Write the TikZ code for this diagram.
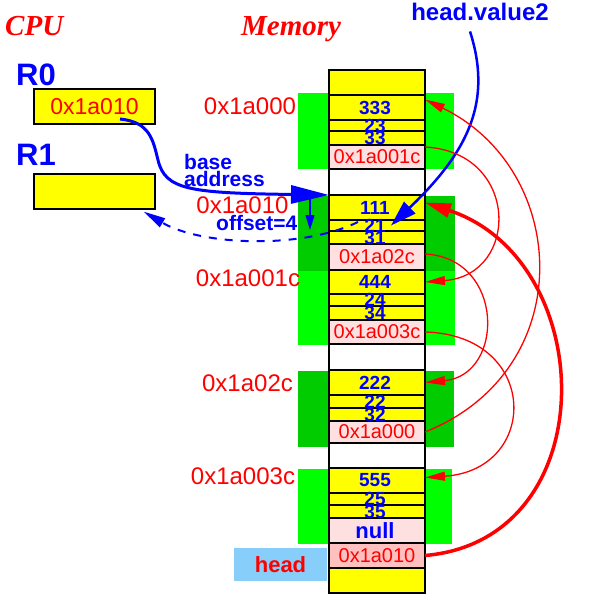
\documentclass[tikz,border=0pt]{standalone}
\usepackage{fontspec}
\setmainfont{Liberation Serif}
\setsansfont{Liberation Sans}
\usetikzlibrary{arrows.meta}

\definecolor{cellyellow}{RGB}{255,255,0}
\definecolor{ptrpink}{RGB}{255,224,224}
\definecolor{headpink}{RGB}{255,192,192}
\definecolor{litegreen}{RGB}{0,255,0}
\definecolor{darkgreen}{RGB}{0,204,0}
\definecolor{headblue}{RGB}{135,206,250}

\tikzset{
  cell/.style={draw, line width=1.2pt, minimum width=96pt, minimum height=#1, inner sep=0pt, outer sep=0pt},
  reg/.style={draw, line width=1.2pt, fill=cellyellow, minimum width=121pt, minimum height=35pt, inner sep=0pt, text=red, font=\sffamily\fontsize{23}{23}\selectfont},
  val/.style={inner sep=0pt, xshift=-2pt, text=blue, font=\sffamily\bfseries\fontsize{19}{19}\selectfont},
  ptr/.style={inner sep=0pt, text=red, font=\sffamily\fontsize{20}{20}\selectfont},
  addr/.style={inner sep=0pt, text=red, font=\sffamily\fontsize{24}{24}\selectfont},
  title/.style={inner sep=0pt, anchor=base west, text=red, font=\rmfamily\bfseries\itshape\fontsize{29}{29}\selectfont},
  note/.style={inner sep=0pt, text=blue, font=\sffamily\bfseries\fontsize{21}{17}\selectfont},
  nextptr/.style={red, line width=1.3pt, -{Triangle[length=20pt,width=9pt]}},
}

\begin{document}
\begin{tikzpicture}[x=1pt,y=-1pt]
\useasboundingbox (0,0) rectangle (592,605);

% green frames round the list nodes
\fill[litegreen] (298,93) rectangle (454,169);
\fill[darkgreen] (298,196) rectangle (455,271);
\fill[litegreen] (298,271) rectangle (455,345);
\fill[darkgreen] (298,371) rectangle (454,447);
\fill[litegreen] (298,469) rectangle (452,544);

% titles
\node[title] (cpu) at (5,35.5) {CPU};
\node[title] (mem) at (241,35.5) {Memory};

% registers
\node[inner sep=0pt, anchor=base west, text=blue, font=\sffamily\bfseries\fontsize{31}{31}\selectfont] (r0name) at (16,85) {R0};
\node[inner sep=0pt, anchor=base west, text=blue, font=\sffamily\bfseries\fontsize{31}{31}\selectfont] (r1name) at (16,165) {R1};
\node[reg] (r0) at (94.5,106.5) {0x1a010};
\node[reg] (r1) at (94.5,191.5) {};

% memory column
\node[cell=25, fill=cellyellow] (top) at (377,82.5) {};
\node[cell=25, fill=cellyellow] (v1) at (377,107.5) {};
\node[cell=11, fill=cellyellow] (a1) at (377,125.5) {};
\node[cell=14, fill=cellyellow] (b1) at (377,138) {};
\node[cell=24, fill=ptrpink] (p1) at (377,157) {};
\node[cell=26, fill=white] (g1) at (377,182) {};
\node[cell=25, fill=cellyellow] (v2) at (377,207.5) {};
\node[cell=11, fill=cellyellow] (a2) at (377,225.5) {};
\node[cell=13, fill=cellyellow] (b2) at (377,237.5) {};
\node[cell=26, fill=ptrpink] (p2) at (377,257) {};
\node[cell=24, fill=cellyellow] (v3) at (377,282) {};
\node[cell=12, fill=cellyellow] (a3) at (377,300) {};
\node[cell=14, fill=cellyellow] (b3) at (377,313) {};
\node[cell=24, fill=ptrpink] (p3) at (377,332) {};
\node[cell=26, fill=white] (g3) at (377,357) {};
\node[cell=25, fill=cellyellow] (v4) at (377,382.5) {};
\node[cell=13, fill=cellyellow] (a4) at (377,401.5) {};
\node[cell=13, fill=cellyellow] (b4) at (377,414.5) {};
\node[cell=22, fill=ptrpink] (p4) at (377,432) {};
\node[cell=25, fill=white] (g4) at (377,455.5) {};
\node[cell=25, fill=cellyellow] (v5) at (377,480.5) {};
\node[cell=12, fill=cellyellow] (a5) at (377,499) {};
\node[cell=13, fill=cellyellow] (b5) at (377,511.5) {};
\node[cell=25, fill=ptrpink] (p5) at (377,530.5) {};
\node[cell=25, fill=headpink] (hd) at (377,555.5) {};
\node[cell=25, fill=cellyellow] (bot) at (377,580.5) {};

% cell contents
\node[val] (t1) at (v1) {333};
\node[val] (t1a) at (a1) {23};
\node[val] (t1b) at (b1) {33};
\node[ptr] (t1p) at (p1) {0x1a001c};
\node[val] (t2) at (v2) {111};
\node[val] (t2a) at (a2) {21};
\node[val] (t2b) at (b2) {31};
\node[ptr] (t2p) at (p2) {0x1a02c};
\node[val] (t3) at (v3) {444};
\node[val] (t3a) at (a3) {24};
\node[val] (t3b) at (b3) {34};
\node[ptr] (t3p) at (p3) {0x1a003c};
\node[val] (t4) at (v4) {222};
\node[val] (t4a) at (a4) {22};
\node[val] (t4b) at (b4) {32};
\node[ptr] (t4p) at (p4) {0x1a000};
\node[val] (t5) at (v5) {555};
\node[val] (t5a) at (a5) {25};
\node[val] (t5b) at (b5) {35};
\node[val, font=\sffamily\bfseries\fontsize{22}{22}\selectfont] (t5p) at (p5) {null};
\node[ptr] (thd) at (hd) {0x1a010};

% addresses
\node[addr] (ad1) at (250,106.5) {0x1a000};
\node[addr] (ad2) at (242.5,205) {0x1a010};
\node[addr] (ad3) at (248,278) {0x1a001c};
\node[addr] (ad4) at (247.5,383) {0x1a02c};
\node[addr] (ad5) at (243,476.5) {0x1a003c};

% head variable
\node[fill=headblue, minimum width=93pt, minimum height=33pt, inner sep=0pt, text=red, font=\sffamily\bfseries\fontsize{22}{22}\selectfont] (head) at (280.5,564.5) {head};

% notes
\node[note, align=left, anchor=north west] (base) at (184,154) {base\\address};
\node[note, anchor=base west] (off) at (216,230) {offset=4};
\node[inner sep=0pt, anchor=base, text=blue, font=\sffamily\bfseries\fontsize{24}{24}\selectfont] (hv) at (480,20) {head.value2};

% blue arrows
\draw[blue, line width=3pt, -{Triangle[length=38pt,width=18pt]}] ([xshift=25.5pt,yshift=-12.5pt]r0.center) .. controls (150,122) and (153,140) .. (158,160) .. controls (165,190) and (190,193) .. (v2.north west);
\coordinate (offtop) at (310,197);
\coordinate (offend) at (310,230);
\draw[blue, line width=1.5pt, -{Triangle[length=15pt,width=9pt]}] (offtop) -- (offend);
\draw[blue, line width=2pt, dash pattern=on 8pt off 8pt, -{Triangle[length=22pt,width=10pt]}] ([xshift=-19pt,yshift=3.5pt]a2.center) .. controls (300,250) and (200,245) .. ([xshift=-12pt,yshift=-2pt]r1.south east);
\draw[blue, line width=2.5pt, -{Triangle[length=26pt,width=16pt]}] ([xshift=-10pt,yshift=-11pt]hv.south) .. controls (492,100) and (470,150) .. ([xshift=14pt]a2.center);

% next pointers
\draw[nextptr] ([yshift=10pt]p1.east) .. controls (520,152) and (520,275) .. (v3.east);
\draw[nextptr] ([yshift=3pt]p2.east) .. controls (505,258) and (505,375) .. (v4.east);
\draw[nextptr] (p3.east) .. controls (540,335) and (540,470) .. ([yshift=3pt]v5.east);
\draw[nextptr] (p4.east) .. controls (580,370) and (570,170) .. ([yshift=8pt]v1.east);
\draw[red, line width=3.5pt, -{Triangle[length=26pt,width=14pt]}] (hd.east) .. controls (606,540) and (600,260) .. ([yshift=5pt]v2.east);
\end{tikzpicture}
\end{document}
